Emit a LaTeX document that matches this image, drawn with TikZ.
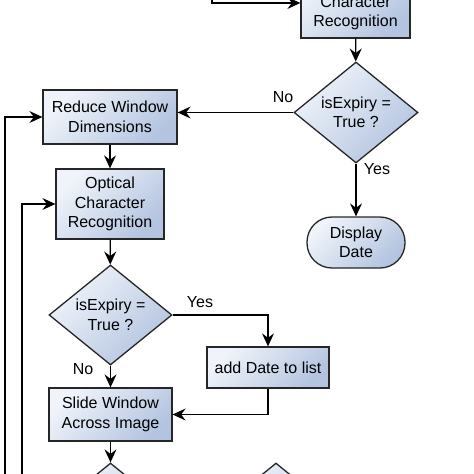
\documentclass[tikz,border=0pt]{standalone}
\usepackage{fontspec}
\setmainfont{Liberation Sans}
\usetikzlibrary{shapes.geometric,arrows.meta}

\definecolor{boxlight}{HTML}{F0F4FA}
\definecolor{boxdark}{HTML}{B3C4E0}
\definecolor{edgegray}{HTML}{262626}

\begin{document}
\begin{tikzpicture}[
x=1pt, y=-1pt,
every node/.style={font=\fontsize{16}{19.5}\selectfont, align=center, inner sep=0pt},
shaded/.style={draw=edgegray, line width=1.3pt, top color=boxlight, bottom color=boxdark, shading angle=45},
process/.style={shaded, rectangle},
decision/.style={shaded, diamond, aspect=1.23},
terminal/.style={shaded, rectangle, rounded corners=25pt},
arrow/.style={draw=black, line width=1.3pt, -{Stealth[length=13pt,width=12pt,inset=4.5pt]}}
]
\useasboundingbox (0,0) rectangle (474,474);
\clip (0,0) rectangle (474,474);

% boxes
\node[process, minimum width=109pt, minimum height=70pt] (ocrtop) at (355.5,3) {Optical\\Character\\Recognition};
\node[decision, minimum width=124pt, minimum height=101pt] (expirytop) at (356,112.5) {isExpiry =\\True ?};
\node[terminal, minimum width=98pt, minimum height=51pt] (display) at (356,242.5) {Display\\Date};
\node[process, minimum width=134pt, minimum height=54pt] (reduce) at (110,117) {Reduce Window\\Dimensions};
\node[process, minimum width=108pt, minimum height=70pt] (ocr) at (110,204) {Optical\\Character\\Recognition};
\node[decision, minimum width=123pt, minimum height=100pt] (expiry) at (110.5,315) {isExpiry =\\True ?};
\node[process, minimum width=122pt, minimum height=41pt] (adddate) at (268,367.5) {add Date to list};
\node[process, minimum width=123pt, minimum height=53pt] (slide) at (110.5,414.5) {Slide Window\\Across Image};
\node[decision, minimum width=123pt, minimum height=100pt] (endcheck) at (110.5,513) {};
\node[decision, minimum width=123pt, minimum height=100pt] (sidecheck) at (276,513) {};

% labels
\node (notop) at (283,97) {No};
\node (yestop) at (377,169) {Yes};
\node (yeslist) at (200,302) {Yes};
\node (noslide) at (83,369) {No};

% loose ends
\coordinate (loopin) at (212,-40);
\coordinate (outerloop) at (5,480);
\coordinate (innerloop) at (22,480);

% links
\draw[arrow] (loopin) |- (ocrtop.west);
\draw[arrow] (ocrtop) -- (expirytop);
\draw[arrow] (expirytop.west) -- (expirytop.west -| reduce.east);
\draw[arrow] (expirytop) -- (display);
\draw[arrow] (reduce) -- (ocr);
\draw[arrow] (ocr) -- (expiry);
\draw[arrow] (expiry.east) -| (adddate.north);
\draw[arrow] (expiry) -- (slide);
\draw[arrow] (adddate.south) |- (slide.east);
\draw[arrow] (slide) -- (endcheck);
\draw[arrow] (outerloop) |- (reduce.west);
\draw[arrow] (innerloop) |- (ocr.west);

\end{tikzpicture}
\end{document}
